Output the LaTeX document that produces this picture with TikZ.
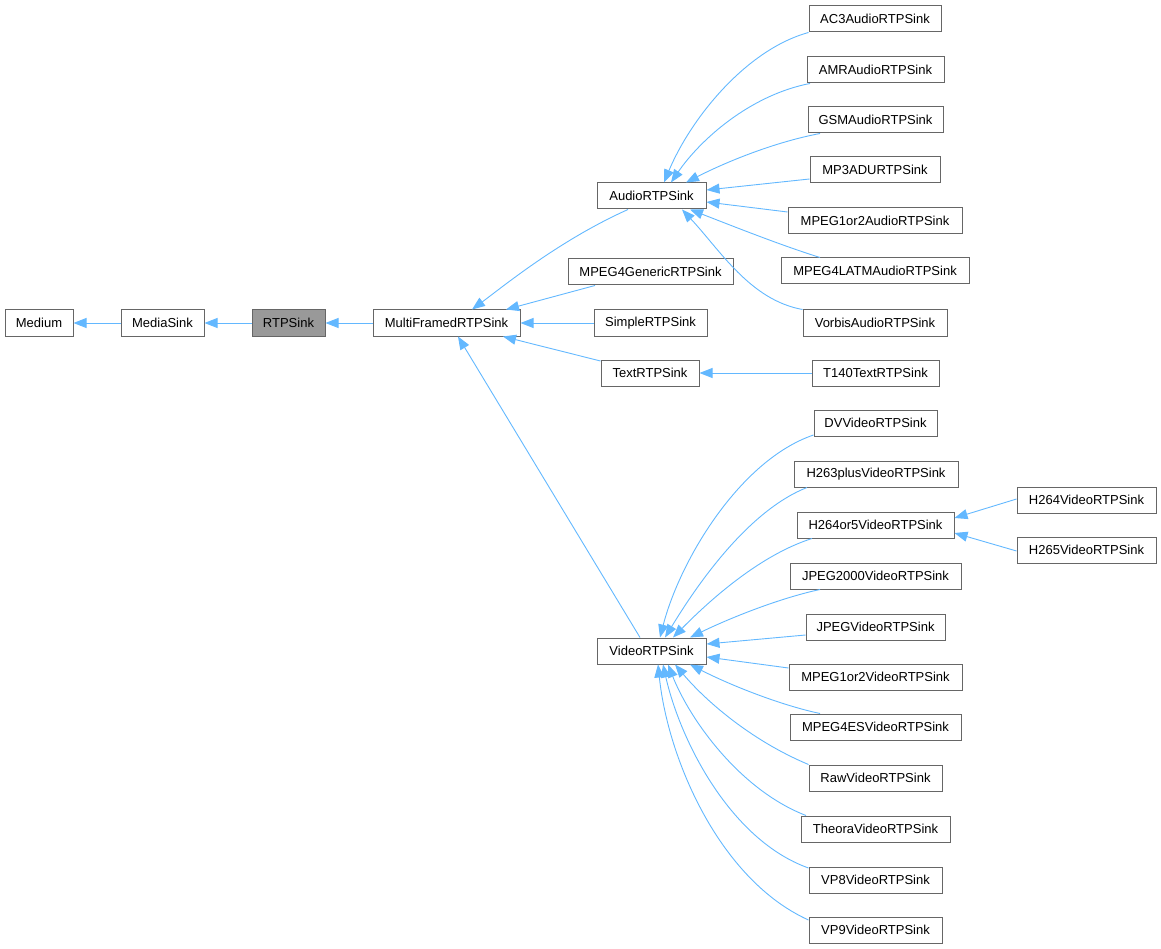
\documentclass[tikz,border=0pt]{standalone}
\usepackage{fontspec}
\setmainfont{Liberation Sans}
\usetikzlibrary{arrows.meta}
\definecolor{edgeblue}{HTML}{63B8FF}
\definecolor{boxborder}{HTML}{666666}
\definecolor{boxgray}{HTML}{999999}
\begin{document}
\begin{tikzpicture}[x=1pt,y=-1pt,
  box/.style={draw=boxborder, line width=1pt, fill=white, minimum height=26pt, inner sep=0pt, font=\fontsize{13}{15}\selectfont, text=black},
  cur/.style={box, fill=boxgray},
  inh/.style={draw=edgeblue, line width=0.9pt, {Triangle[length=13pt,width=10pt,fill=edgeblue]}-}]
\useasboundingbox (0,0) rectangle (1161,949);
% nodes
\node[box, minimum width=68pt] (medium) at (39,323) {Medium};
\node[box, minimum width=83pt] (mediasink) at (162.5,323) {MediaSink};
\node[cur, minimum width=73pt] (rtpsink) at (288.5,323) {RTPSink};
\node[box, minimum width=147pt] (multi) at (446.5,323) {MultiFramedRTPSink};
\node[box, minimum width=109pt] (audio) at (651.5,196) {AudioRTPSink};
\node[box, minimum width=165pt] (mpeg4gen) at (650.5,272) {MPEG4GenericRTPSink};
\node[box, minimum width=113pt] (simple) at (650.5,323) {SimpleRTPSink};
\node[box, minimum width=98pt] (text) at (650,373) {TextRTPSink};
\node[box, minimum width=109pt] (video) at (651.5,651) {VideoRTPSink};
\node[box, minimum width=132pt] (ac3) at (875,19) {AC3AudioRTPSink};
\node[box, minimum width=137pt] (amr) at (875.5,70) {AMRAudioRTPSink};
\node[box, minimum width=135pt] (gsm) at (875.5,120) {GSMAudioRTPSink};
\node[box, minimum width=130pt] (mp3adu) at (875,170) {MP3ADURTPSink};
\node[box, minimum width=174pt] (mpeg12a) at (875,221) {MPEG1or2AudioRTPSink};
\node[box, minimum width=188pt] (latm) at (875,271) {MPEG4LATMAudioRTPSink};
\node[box, minimum width=144pt] (vorbis) at (875,323) {VorbisAudioRTPSink};
\node[box, minimum width=127pt] (t140) at (875.5,373) {T140TextRTPSink};
\node[box, minimum width=123pt] (dv) at (875.5,423) {DVVideoRTPSink};
\node[box, minimum width=164pt] (h263) at (876,474) {H263plusVideoRTPSink};
\node[box, minimum width=157pt] (h2645) at (875.5,525) {H264or5VideoRTPSink};
\node[box, minimum width=171pt] (jp2k) at (875.5,576) {JPEG2000VideoRTPSink};
\node[box, minimum width=139pt] (jpeg) at (875.5,627) {JPEGVideoRTPSink};
\node[box, minimum width=173pt] (mpeg12v) at (875.5,677) {MPEG1or2VideoRTPSink};
\node[box, minimum width=171pt] (mpeg4es) at (875.5,727) {MPEG4ESVideoRTPSink};
\node[box, minimum width=133pt] (raw) at (875.5,778) {RawVideoRTPSink};
\node[box, minimum width=149pt] (theora) at (875.5,829) {TheoraVideoRTPSink};
\node[box, minimum width=133pt] (vp8) at (875.5,880) {VP8VideoRTPSink};
\node[box, minimum width=133pt] (vp9) at (875.5,930) {VP9VideoRTPSink};
\node[box, minimum width=139pt] (h264) at (1086.5,500) {H264VideoRTPSink};
\node[box, minimum width=139pt] (h265) at (1086.5,550) {H265VideoRTPSink};
% main chain
\draw[inh] (medium.east) -- (mediasink.west);
\draw[inh] (mediasink.east) -- (rtpsink.west);
\draw[inh] (rtpsink.east) -- (multi.west);
% MultiFramedRTPSink children
\draw[inh] (multi.north -| 472,0) .. controls (505,285) and (560,240) .. (audio.south -| 628,0);
\draw[inh] (multi.north -| 506,0) -- (mpeg4gen.south -| 595,0);
\draw[inh] (multi.east) -- (simple.west);
\draw[inh] (multi.south -| 503,0) -- (text.west |- 0,361);
\draw[inh] (multi.south -| 458,0) -- (video.north -| 640,0);
% TextRTPSink child
\draw[inh] (text.east) -- (t140.west);
% AudioRTPSink children
\draw[inh] (audio.north -| 664,0) .. controls (690,120) and (745,50) .. (ac3.south west);
\draw[inh] (audio.north -| 671,0) .. controls (700,140) and (750,95) .. (amr.south west -| 810,0);
\draw[inh] (audio.north -| 686,0) .. controls (720,165) and (770,143) .. (gsm.south -| 820,0);
\draw[inh] (audio.east |- 0,190) -- (mp3adu.west |- 0,179);
\draw[inh] (audio.east |- 0,202) -- (mpeg12a.west |- 0,212);
\draw[inh] (audio.south -| 690,0) .. controls (730,225) and (780,245) .. (latm.north -| 820,0);
\draw[inh] (audio.south -| 682,0) .. controls (720,250) and (750,300) .. (vorbis.north west);
% VideoRTPSink children
\draw[inh] (video.north -| 660,0) .. controls (680,560) and (740,460) .. (dv.west |- 0,435);
\draw[inh] (video.north -| 665,0) .. controls (700,580) and (750,510) .. (h263.south -| 807,0);
\draw[inh] (video.north -| 673,0) .. controls (710,600) and (760,555) .. (h2645.south -| 812,0);
\draw[inh] (video.north -| 690,0) .. controls (730,618) and (780,598) .. (jp2k.south -| 820,0);
\draw[inh] (video.east |- 0,644) -- (jpeg.west |- 0,635);
\draw[inh] (video.east |- 0,657) -- (mpeg12v.west |- 0,668);
\draw[inh] (video.south -| 690,0) .. controls (730,685) and (780,705) .. (mpeg4es.north -| 820,0);
\draw[inh] (video.south -| 675,0) .. controls (705,700) and (750,740) .. (raw.north west);
\draw[inh] (video.south -| 668,0) .. controls (690,720) and (740,790) .. (theora.north -| 806,0);
\draw[inh] (video.south -| 663,0) .. controls (680,740) and (730,840) .. (vp8.west |- 0,868);
\draw[inh] (video.south -| 658,0) .. controls (668,760) and (720,880) .. (vp9.west |- 0,920);
% H264or5VideoRTPSink children
\draw[inh] (h2645.east |- 0,518) -- (h264.west |- 0,499);
\draw[inh] (h2645.east |- 0,533) -- (h265.west |- 0,551);
\end{tikzpicture}
\end{document}
